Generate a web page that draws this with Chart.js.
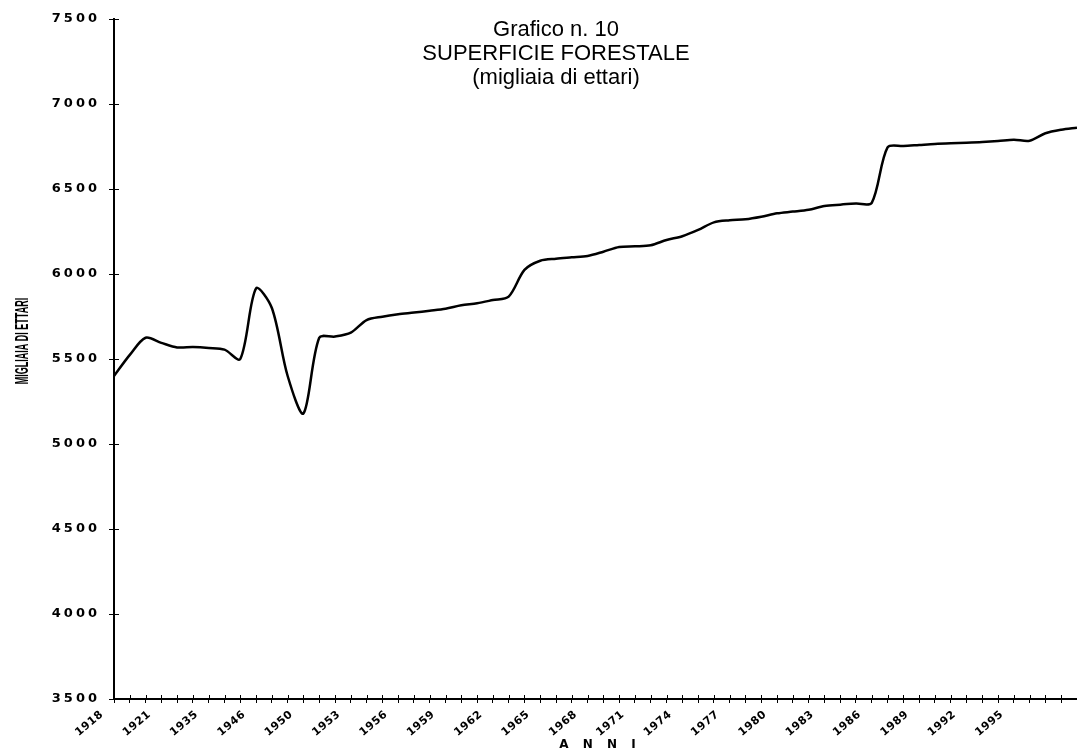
<!DOCTYPE html>
<html>
<head>
<meta charset="utf-8">
<title>Superficie forestale</title>
<script src="https://cdn.jsdelivr.net/npm/chart.js@4.4.1/dist/chart.umd.min.js"></script>
<style>
  html, body { margin: 0; padding: 0; background: #fff; }
  #wrap { width: 1077px; height: 751px; position: relative; }
</style>
</head>
<body>
<div id="wrap"><canvas id="grafico"></canvas></div>
<script>
// anni (solo uno ogni tre viene etichettato)
var anni = [
    '1918', '1919', '1920', '1921', '1926', '1930', '1935', '1938', '1942', '1946',
    '1947', '1948', '1950', '1951', '1952', '1953', '1954', '1955', '1956', '1957',
    '1958', '1959', '1960', '1961', '1962', '1963', '1964', '1965', '1966', '1967',
    '1968', '1969', '1970', '1971', '1972', '1973', '1974', '1975', '1976', '1977',
    '1978', '1979', '1980', '1981', '1982', '1983', '1984', '1985', '1986', '1987',
    '1988', '1989', '1990', '1991', '1992', '1993', '1994', '1995', '1996', '1997',
    '1998', '1999'
];

// superficie forestale, migliaia di ettari
var superficie = [
    5400, 5524, 5625, 5595, 5568, 5570, 5565, 5555, 5500, 5915,
    5800, 5400, 5180, 5625, 5632, 5655, 5729, 5749, 5763, 5773,
    5784, 5796, 5816, 5828, 5847, 5867, 6024, 6078, 6090, 6098,
    6106, 6131, 6159, 6163, 6169, 6200, 6222, 6259, 6304, 6316,
    6322, 6337, 6357, 6367, 6378, 6400, 6408, 6414, 6419, 6745,
    6753, 6759, 6765, 6769, 6772, 6776, 6782, 6790, 6784, 6828,
    6849, 6861
];

var yMin = 3500;
var yMax = 7500;
var yPasso = 500;

var titolo = ['Grafico n. 10', 'SUPERFICIE FORESTALE', '(migliaia di ettari)'];
var titoloAsseY = 'MIGLIAIA DI ETTARI';
var titoloAsseX = 'A N N I';

/** testi e tacche interne disegnati a mano */
var decorazioni = {
    id: 'decorazioni',
    beforeDraw: function(chart) {
        // etichette anni
        chart.ctx.letterSpacing = '0.5px';
    },
    beforeDatasetsDraw: function(chart) {
        // etichette asse y (disegnate dopo, z = 1)
        chart.ctx.letterSpacing = '3px';
    },
    afterDraw: function(chart) {
        var ctx = chart.ctx;
        var area = chart.chartArea;
        var sx = chart.scales.x;
        var sy = chart.scales.y;
        ctx.save();
        ctx.letterSpacing = '0px';

        // tacche verso l'interno (a croce)
        ctx.strokeStyle = '#000';
        ctx.lineWidth = 1;
        ctx.beginPath();
        for (var i = 0; i < sx.ticks.length; i++) {
            var px = Math.round(sx.getPixelForTick(i)) + 0.5;
            ctx.moveTo(px, area.bottom);
            ctx.lineTo(px, area.bottom - 4);
        }
        for (var j = 0; j < sy.ticks.length; j++) {
            var py = Math.round(sy.getPixelForTick(j)) + 0.5;
            ctx.moveTo(area.left, py);
            ctx.lineTo(area.left + 5, py);
        }
        ctx.stroke();

        // titolo
        ctx.fillStyle = '#000';
        ctx.textAlign = 'center';
        ctx.textBaseline = 'alphabetic';
        ctx.font = '22px "Liberation Sans", Arial, sans-serif';
        ctx.fillText(titolo[0], 556, 36);
        ctx.fillText(titolo[1], 556, 60);
        ctx.fillText(titolo[2], 556, 84);

        // titolo asse y (compresso)
        ctx.save();
        ctx.translate(28, 341);
        ctx.rotate(-Math.PI / 2);
        ctx.scale(0.5, 1);
        ctx.font = 'bold 18px "Liberation Sans", Arial, sans-serif';
        ctx.fillText(titoloAsseY, 0, 0);
        ctx.restore();

        // titolo asse x
        ctx.font = 'bold 12px "DejaVu Sans", sans-serif';
        ctx.letterSpacing = '5px';
        ctx.fillText(titoloAsseX, 600, 748);
        ctx.restore();
    }
};

var ctx = document.getElementById('grafico');
new Chart(ctx.getContext('2d'), {
    type: 'line',
    data: {
        labels: anni,
        datasets: [{
            label: 'Superficie forestale',
            data: superficie,
            borderColor: '#000',
            borderWidth: 2.5,
            pointRadius: 0,
            tension: 0.3,
            fill: false
        }]
    },
    options: {
        responsive: true,
        maintainAspectRatio: false,
        animation: false,
        layout: { padding: { top: 19, right: 0, bottom: 0, left: 0 } },
        plugins: {
            legend: { display: false },
            title: { display: false },
            tooltip: { enabled: false }
        },
        scales: {
            x: {
                grid: { drawOnChartArea: false, color: '#000', tickLength: 4, tickWidth: 1 },
                border: { color: '#000', width: 2 },
                ticks: {
                    autoSkip: false,
                    minRotation: 40,
                    maxRotation: 40,
                    padding: 5,
                    labelOffset: -12,
                    color: '#000',
                    font: { family: 'DejaVu Sans', weight: 'bold', size: 11 },
                    callback: function(v, i) {
                        return (i % 3 === 0 && i < 60) ? anni[i] : '';
                    }
                },
                afterFit: function(s) {
                    s.height = 52;
                    s.paddingLeft = 0;
                    s.paddingRight = 0;
                }
            },
            y: {
                min: yMin,
                max: yMax,
                grid: { drawOnChartArea: false, color: '#000', tickLength: 5, tickWidth: 1 },
                border: { color: '#000', width: 2 },
                ticks: {
                    z: 1,
                    stepSize: yPasso,
                    padding: 9,
                    color: '#000',
                    font: { family: 'DejaVu Sans', weight: 'bold', size: 13 },
                    callback: function(v) { return String(v); }
                },
                afterFit: function(s) { s.width = 114; }
            }
        }
    },
    plugins: [decorazioni]
});
</script>
</body>
</html>
